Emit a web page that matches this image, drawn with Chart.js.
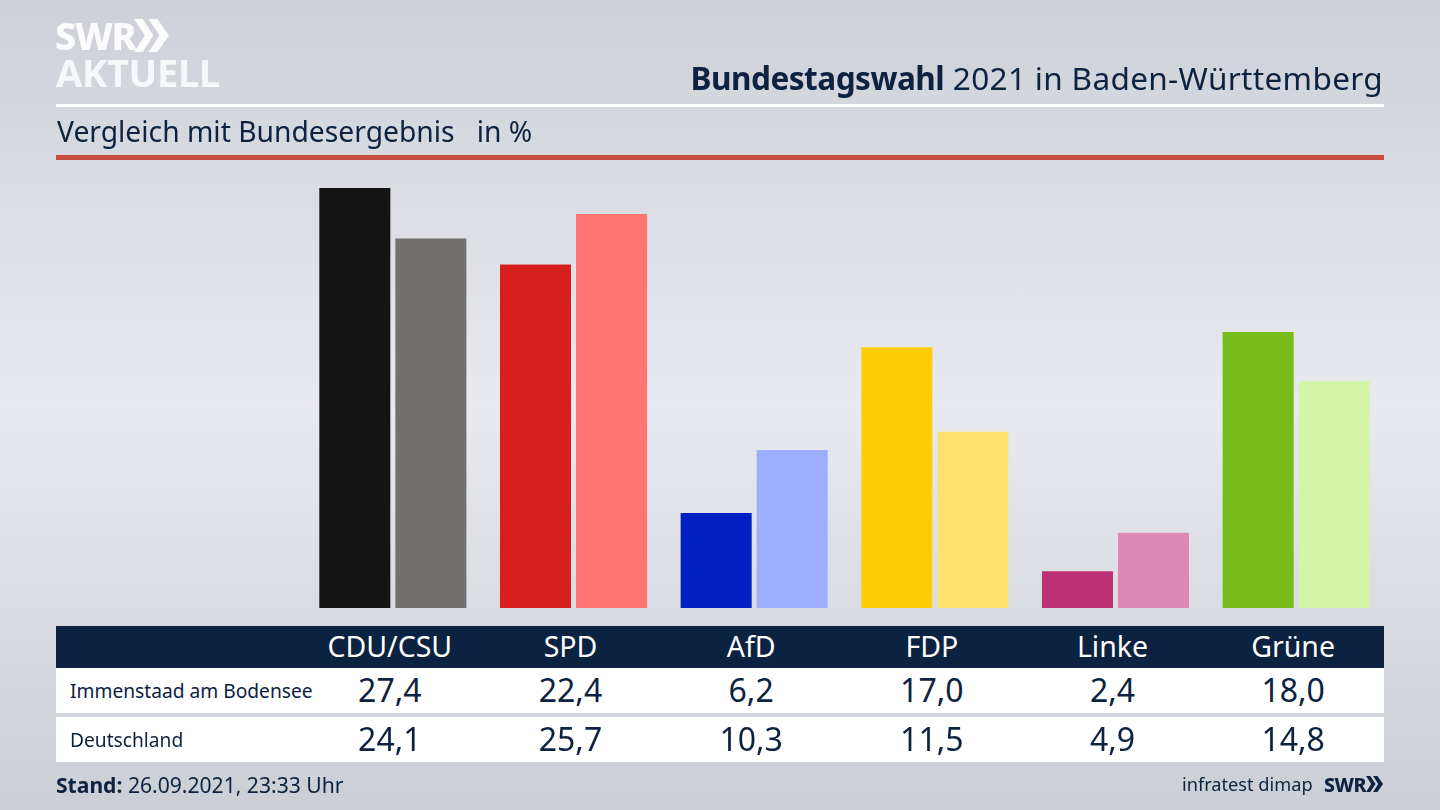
<!doctype html>
<html>
<head>
<title>Bundestagswahl 2021 in Baden-Württemberg</title>
<script src="https://cdn.jsdelivr.net/npm/chart.js@4"></script>
<style>
html, body { margin: 0; padding: 0; }
body {
	width: 1440px; height: 810px; overflow: hidden; position: relative;
	font-family: "Noto Sans", sans-serif; color: #0c2240;
	background: linear-gradient(180deg, #cdd0d7 0%, #e8eaef 50%, #cbced5 100%);
}
canvas { position: absolute; left: 0; top: 0; }
.abs { position: absolute; white-space: nowrap; }
.bar { position: absolute; left: 56px; width: 1328px; }
.cell { position: absolute; white-space: nowrap; transform: translateX(-50%); }
</style>
</head>
<body>
	<canvas id="canvas" width="1440" height="810"></canvas>

	<div class="abs" style="left:55px; top:9px; font-size:38px; line-height:52px; font-weight:800; color:#fbfbfc; letter-spacing:-1.5px;">SWR</div>
	<svg class="abs" style="left:134px; top:19px;" width="37" height="33" viewBox="0 0 38 34">
		<path d="M0 0h9l11 17-11 17H0l11-17zM15 0h9l12 17-12 17h-9l11-17z" fill="#fbfbfc"/>
	</svg>
	<div class="abs" style="left:56px; top:46px; font-size:38px; line-height:52px; font-weight:700; color:#f6f7f8; letter-spacing:-.3px;">AKTUELL</div>

	<div class="abs" style="right:57px; top:56px; font-size:31.55px; letter-spacing:.32px;"><b style="letter-spacing:-.5px;">Bundestagswahl</b> 2021 in Baden-Württemberg</div>
	<div class="bar" style="top:104px; height:3px; background:#fff;"></div>
	<div class="abs" style="left:57px; top:112px; font-size:28.25px;">Vergleich mit Bundesergebnis &nbsp; in %</div>
	<div class="bar" style="top:155px; height:5px; background:#c9503f;"></div>

	<div class="bar" style="top:626px; height:42px; background:#0b2240;"></div>
	<div class="bar" style="top:668px; height:45px; background:#fff;"></div>
	<div class="bar" style="top:717px; height:45px; background:#fff;"></div>
	<div id="table"></div>

	<div class="abs" style="left:56px; top:770px; font-size:21.1px;"><b>Stand:</b> 26.09.2021, 23:33 Uhr</div>
	<div class="abs" style="left:1182px; top:772px; font-size:18.2px;">infratest dimap</div>
	<div class="abs" style="left:1324px; top:771px; font-size:19.5px; font-weight:800; letter-spacing:-.5px;">SWR</div>
	<svg class="abs" style="left:1366px; top:776px;" width="18" height="16" viewBox="0 0 38 34">
		<path d="M0 0h9l11 17-11 17H0l11-17zM15 0h9l12 17-12 17h-9l11-17z" fill="#0c2240"/>
	</svg>

	<script>
	var parties = ["CDU/CSU", "SPD", "AfD", "FDP", "Linke", "Grüne"];
	var immenstaad = [27.4, 22.4, 6.2, 17.0, 2.4, 18.0];
	var deutschland = [24.1, 25.7, 10.3, 11.5, 4.9, 14.8];
	var rowNames = ["Immenstaad am Bodensee", "Deutschland"];

	var darkColors = ["#141414", "#d71f1d", "#0020c4", "#ffcc0a", "#bc3076", "#78bc1b"];
	var lightColors = ["#72716f", "#ff7370", "#9daeff", "#ffe171", "#df88b8", "#d4f5a8"];

	function fmt(v) {
		return v.toFixed(1).replace(".", ",");
	}

	var chart = new Chart(document.getElementById("canvas").getContext("2d"), {
		type: "bar",
		data: {
			labels: parties,
			datasets: [
				{ label: rowNames[0], data: immenstaad, backgroundColor: darkColors },
				{ label: rowNames[1], data: deutschland, backgroundColor: lightColors }
			]
		},
		options: {
			responsive: false,
			animation: false,
			devicePixelRatio: 1,
			categoryPercentage: 0.8416,
			barPercentage: 0.934,
			layout: { padding: { left: 302.5, right: 53.5, top: 178.7, bottom: 202 } },
			plugins: { legend: { display: false }, title: { display: false }, tooltip: { enabled: false } },
			scales: {
				x: { display: false },
				y: { display: false, min: 0, max: 28 }
			}
		}
	});

	// table below the bars, columns follow the category scale
	var table = document.getElementById("table");
	function addCell(text, x, top, size, color) {
		var d = document.createElement("div");
		d.className = "cell";
		d.textContent = text;
		d.style.left = x + "px";
		d.style.top = top + "px";
		d.style.fontSize = size + "px";
		if (color) d.style.color = color;
		table.appendChild(d);
	}
	parties.forEach(function(p, i) {
		var x = chart.scales.x.getPixelForTick(i) - 3;
		addCell(p, x, 627, 28.5, "#fff");
		addCell(fmt(immenstaad[i]), x, 668, 32);
		addCell(fmt(deutschland[i]), x, 717, 32);
	});
	rowNames.forEach(function(name, i) {
		var d = document.createElement("div");
		d.className = "abs";
		d.textContent = name;
		d.style.left = "70px";
		d.style.top = (677 + i * 48.5) + "px";
		d.style.fontSize = "19.2px";
		table.appendChild(d);
	});
	</script>
</body>
</html>
